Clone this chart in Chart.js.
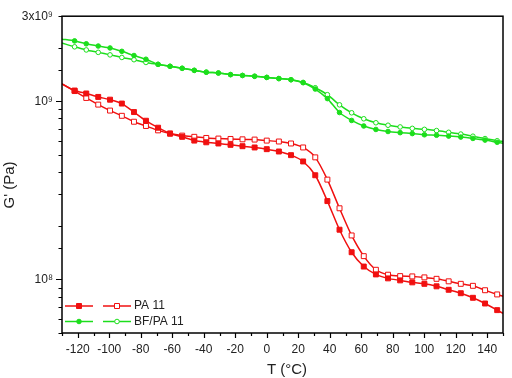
<!DOCTYPE html>
<html><head><meta charset="utf-8">
<script src="https://cdn.jsdelivr.net/npm/chart.js@4/dist/chart.umd.min.js"></script>
<style>html,body{margin:0;padding:0;background:#fff}#wrap{width:512px;height:378px}</style>
</head><body>
<div id="wrap"><canvas id="c"></canvas></div>
<script>
const temps = [-130, -122, -114.6, -107, -99.5, -92, -84.3, -76.7, -69, -61.4, -53.7, -46, -38.4, -30.7, -23, -15.4, -7.7, 0, 7.7, 15.4, 23.1, 30.8, 38.5, 46.2, 53.9, 61.6, 69.3, 77, 84.7, 92.4, 100.1, 107.8, 115.5, 123.2, 130.9, 138.6, 146.3, 150];
const pa11Filled = [1.25e9, 1.148e9, 1.105e9, 1.057e9, 1.02e9, 0.97e9, 0.869e9, 0.777e9, 0.71e9, 0.658e9, 0.631e9, 0.601e9, 0.588e9, 0.579e9, 0.569e9, 0.559e9, 0.55e9, 0.538e9, 0.522e9, 0.498e9, 0.459e9, 0.384e9, 0.275e9, 0.19e9, 0.142e9, 0.118e9, 0.1066e9, 0.1013e9, 0.0987e9, 0.0962e9, 0.0944e9, 0.0914e9, 0.0874e9, 0.0836e9, 0.0788e9, 0.0732e9, 0.0672e9, 0.0644e9];
const pa11Open = [1.25e9, 1.14e9, 1.043e9, 0.957e9, 0.886e9, 0.828e9, 0.767e9, 0.726e9, 0.686e9, 0.658e9, 0.641e9, 0.631e9, 0.622e9, 0.617e9, 0.614e9, 0.611e9, 0.609e9, 0.601e9, 0.594e9, 0.579e9, 0.55e9, 0.484e9, 0.363e9, 0.2506e9, 0.1764e9, 0.135e9, 0.1132e9, 0.1062e9, 0.1043e9, 0.1039e9, 0.1026e9, 0.1007e9, 0.0975e9, 0.0944e9, 0.092e9, 0.0869e9, 0.0823e9, 0.0804e9];
const bfFilled = [2.23e9, 2.18e9, 2.10e9, 2.04e9, 1.99e9, 1.905e9, 1.805e9, 1.72e9, 1.61e9, 1.57e9, 1.53e9, 1.49e9, 1.455e9, 1.44e9, 1.41e9, 1.395e9, 1.38e9, 1.36e9, 1.34e9, 1.32e9, 1.27e9, 1.17e9, 1.034e9, 0.864e9, 0.78e9, 0.726e9, 0.694e9, 0.676e9, 0.666e9, 0.658e9, 0.648e9, 0.644e9, 0.637e9, 0.629e9, 0.618e9, 0.605e9, 0.588e9, 0.58e9];
const bfOpen = [2.12e9, 2.02e9, 1.94e9, 1.88e9, 1.82e9, 1.76e9, 1.71e9, 1.65e9, 1.61e9, 1.57e9, 1.53e9, 1.49e9, 1.455e9, 1.44e9, 1.41e9, 1.395e9, 1.38e9, 1.36e9, 1.34e9, 1.32e9, 1.275e9, 1.19e9, 1.088e9, 0.954e9, 0.861e9, 0.797e9, 0.757e9, 0.733e9, 0.717e9, 0.704e9, 0.695e9, 0.684e9, 0.669e9, 0.654e9, 0.636e9, 0.617e9, 0.600e9, 0.594e9];
const seriesLabels = ['PA 11', 'BF/PA 11'];
const xTitle = 'T (°C)';
const yTitle = "G' (Pa)";
const yTickLabels = {'3e9': '3x10\u2079', '1e9': '10\u2079', '1e8': '10\u2078'};

const RED = 'rgb(240,16,16)';
const GREEN = 'rgb(28,222,28)';
const FONT = "'Liberation Sans', Arial, sans-serif";

function pts(vals){ return temps.map((t,i)=>({x:t, y:vals[i]})); }
function radiusFn(r){ return ctx => (ctx.dataIndex===0 || ctx.dataIndex===temps.length-1) ? 0 : r; }

function mk(label, vals, color, style, filled, r){
  return {
    label, data: pts(vals), borderColor: color, borderWidth: 1.5,
    pointStyle: style, pointRadius: radiusFn(r), pointHoverRadius: radiusFn(r),
    pointBackgroundColor: filled ? color : '#fff', pointBorderColor: color, pointBorderWidth: 1,
    tension: 0.25, fill: false
  };
}

const frameAndExtras = {
  id: 'frameAndExtras',
  afterDraw(chart){
    const {ctx, chartArea:a, scales:{x, y}} = chart;
    ctx.save();
    ctx.strokeStyle = '#000'; ctx.lineWidth = 1.5;
    ctx.strokeRect(a.left, a.top, a.right - a.left, a.bottom - a.top);
    ctx.lineWidth = 1.2; ctx.beginPath();
    y.ticks.forEach(t => {
      const py = Math.round(y.getPixelForValue(t.value)) + 0.5;
      const lg = Math.log10(t.value);
      const major = Math.abs(lg - Math.round(lg)) < 1e-6;
      const len = major ? 6 : 3.5;
      ctx.moveTo(a.left - len, py); ctx.lineTo(a.left, py);
    });
    x.ticks.forEach(t => {
      const px = Math.round(x.getPixelForValue(t.value)) + 0.5;
      const major = Math.abs(t.value % 20) < 1e-6;
      const len = major ? 5 : 3;
      ctx.moveTo(px, a.bottom); ctx.lineTo(px, a.bottom + len);
    });
    ctx.stroke();
    ctx.fillStyle = '#222';
    ctx.font = '15px ' + FONT;
    ctx.textAlign = 'center'; ctx.textBaseline = 'middle';
    ctx.fillText(xTitle, 287, 370);
    ctx.save(); ctx.translate(10, 185); ctx.rotate(-Math.PI/2);
    ctx.fillText(yTitle, 0, 0); ctx.restore();
    const ds = chart.data.datasets;
    const rows = [[ds[0], ds[1], 306], [ds[2], ds[3], 321.5]];
    rows.forEach(([f, o, yy], i) => {
      [[f, 65, 93, 79], [o, 103, 131, 117]].forEach(([d, x0, x1, xm]) => {
        ctx.strokeStyle = d.borderColor; ctx.lineWidth = 1.5;
        ctx.beginPath(); ctx.moveTo(x0, yy); ctx.lineTo(x1, yy); ctx.stroke();
        ctx.fillStyle = d.pointBackgroundColor; ctx.lineWidth = 1;
        ctx.beginPath();
        if (d.pointStyle === 'rect') { ctx.rect(xm - 2.5, yy - 2.5, 5, 5); }
        else { ctx.arc(xm, yy, 2.3, 0, Math.PI*2); }
        ctx.fill(); ctx.stroke();
      });
      ctx.fillStyle = '#222'; ctx.font = '12px ' + FONT;
      ctx.textAlign = 'left'; ctx.textBaseline = 'middle';
      ctx.fillText(seriesLabels[i], 134, yy);
    });
    ctx.restore();
  }
};

new Chart(document.getElementById('c'), {
  type: 'line',
  data: {
    datasets: [
      mk(seriesLabels[0] + ' (filled)', pa11Filled, RED, 'rect', true, 3.5),
      mk(seriesLabels[0] + ' (open)', pa11Open, RED, 'rect', false, 3.5),
      mk(seriesLabels[1] + ' (filled)', bfFilled, GREEN, 'circle', true, 2.3),
      mk(seriesLabels[1] + ' (open)', bfOpen, GREEN, 'circle', false, 2.3)
    ]
  },
  options: {
    responsive: true, maintainAspectRatio: false, animation: false,
    layout: { padding: { top: 13, right: 2, left: 0, bottom: 0 } },
    plugins: { legend: { display: false }, tooltip: { enabled: false } },
    scales: {
      x: {
        type: 'linear', min: -130, max: 150,
        afterFit: s => { s.height = 45; },
        grid: { display: false, drawTicks: false }, border: { display: false },
        ticks: {
          stepSize: 10, autoSkip: false, maxRotation: 0, padding: 9,
          color: '#222', font: { family: FONT, size: 12 },
          callback: v => (Math.abs(v % 20) < 1e-6 && v >= -120 && v <= 140) ? String(v) : ''
        }
      },
      y: {
        type: 'logarithmic', min: 5e7, max: 3e9,
        afterFit: s => { s.width = 62; },
        grid: { display: false, drawTicks: false }, border: { display: false },
        ticks: {
          autoSkip: false, padding: 9, color: '#222', font: { family: FONT, size: 12 },
          callback: v => {
            for (const k in yTickLabels) { if (Math.abs(v / Number(k) - 1) < 1e-6) return yTickLabels[k]; }
            return '';
          }
        }
      }
    }
  },
  plugins: [frameAndExtras]
});
</script>
</body></html>
